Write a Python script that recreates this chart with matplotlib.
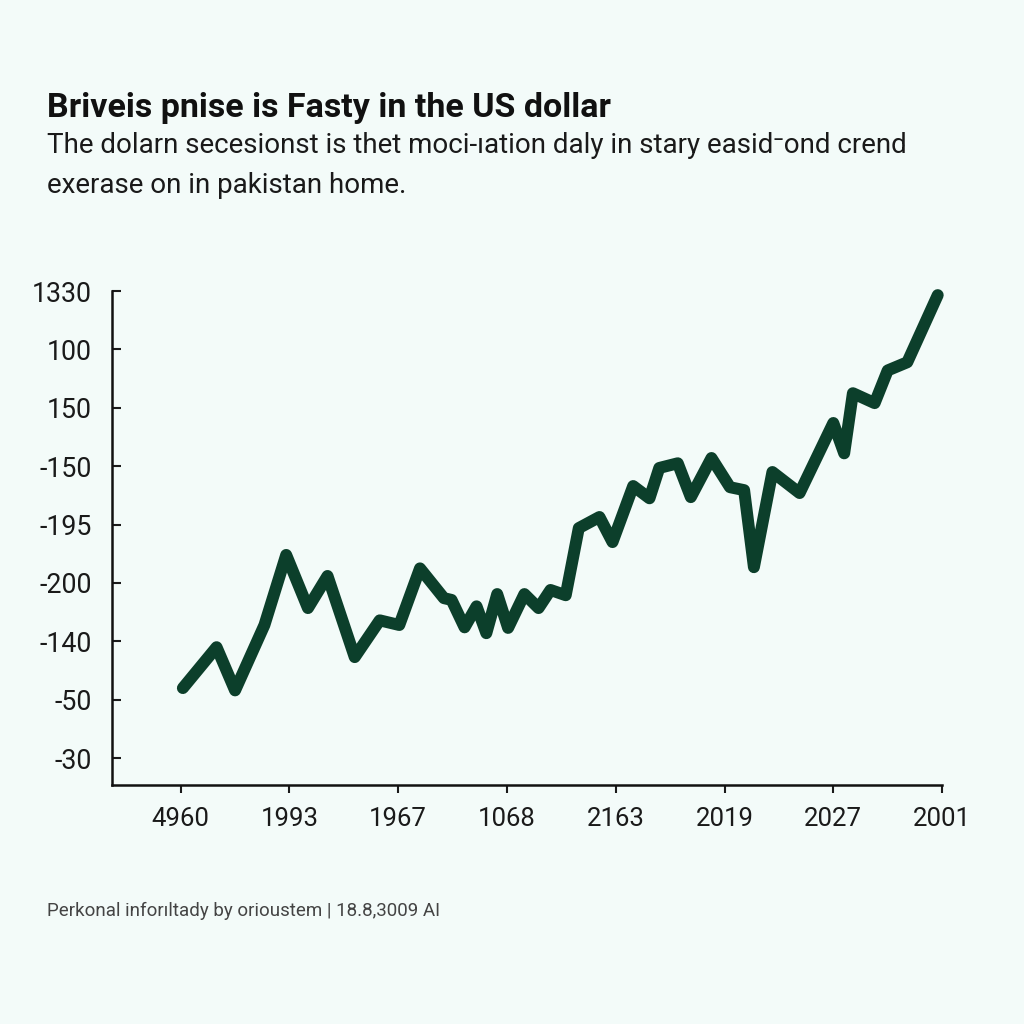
import matplotlib.pyplot as plt

# Tick labels as printed on the chart
x_labels = ['4960', '1993', '1967', '1068', '2163', '2019', '2027', '2001']
y_labels = ['-30', '-50', '-140', '-200', '-195', '-150', '150', '100', '1330']

# Series (in tick-position units)
x_vals = [0.02, 0.33, 0.50, 0.77, 0.97, 1.17, 1.35, 1.60, 1.83, 2.01,
          2.20, 2.42, 2.49, 2.61, 2.72, 2.81, 2.91, 3.01, 3.16, 3.29,
          3.40, 3.54, 3.66, 3.85, 3.97, 4.16, 4.31, 4.40, 4.57, 4.69,
          4.88, 5.05, 5.18, 5.27, 5.44, 5.69, 6.00, 6.10, 6.18, 6.38,
          6.50, 6.68, 6.96]
y_vals = [1.20, 1.90, 1.16, 2.28, 3.48, 2.57, 3.12, 1.73, 2.36, 2.28,
          3.25, 2.74, 2.71, 2.24, 2.60, 2.14, 2.81, 2.23, 2.81, 2.57,
          2.88, 2.79, 3.94, 4.13, 3.70, 4.66, 4.45, 4.97, 5.05, 4.47,
          5.14, 4.64, 4.59, 3.27, 4.90, 4.54, 5.74, 5.22, 6.25, 6.08,
          6.64, 6.78, 7.93]

bg = '#f3fbf9'
line_color = '#0c3f2b'

fig = plt.figure(figsize=(10.24, 10.24), dpi=100, facecolor=bg)
ax = fig.add_axes([0.109, 0.2334, 0.811, 0.4824], facecolor=bg)

ax.plot(x_vals, y_vals, color=line_color, lw=8.6, solid_joinstyle='round',
        solid_capstyle='round', clip_on=False)

ax.set_xlim(-0.635, 7.0)
ax.set_ylim(-0.46, 8.0)
ax.set_xticks(range(len(x_labels)))
ax.set_xticklabels(x_labels, family=['Roboto', 'DejaVu Sans'], fontsize=18.5)
ax.set_yticks(range(len(y_labels)))
ax.set_yticklabels(y_labels, family=['Roboto', 'DejaVu Sans'], fontsize=19.3)

for s in ['top', 'right']:
    ax.spines[s].set_visible(False)
for s in ['left', 'bottom']:
    ax.spines[s].set_linewidth(1.8)
    ax.spines[s].set_color('#111111')
ax.tick_params(axis='y', direction='in', length=6.5, width=1.5, pad=14, colors='#1a1a1a')
ax.tick_params(axis='x', direction='out', length=6, width=1.5, pad=10, colors='#1a1a1a')

fig.text(0.046, 0.886, 'Briveis pnise is Fasty in the US dollar',
         family=['Roboto', 'DejaVu Sans'], fontweight='bold', fontsize=24.5,
         color='#111111', va='baseline')
fig.text(0.046, 0.851, 'The dolarn secesionst is thet moci-ıation daly in stary easid⁻ond crend',
         family=['Roboto', 'DejaVu Sans'], fontsize=20, color='#1a1a1a', va='baseline')
fig.text(0.046, 0.812, 'exerase on in pakistan home.',
         family=['Roboto', 'DejaVu Sans'], fontsize=20, color='#1a1a1a', va='baseline')

fig.text(0.046, 0.105, 'Perkonal inforıltady by orioustem | 18.8,3009 AI',
         family=['Roboto', 'DejaVu Sans'], fontsize=13.5, color='#444444', va='baseline')

fig.savefig('out.png', dpi=100, facecolor=bg)
